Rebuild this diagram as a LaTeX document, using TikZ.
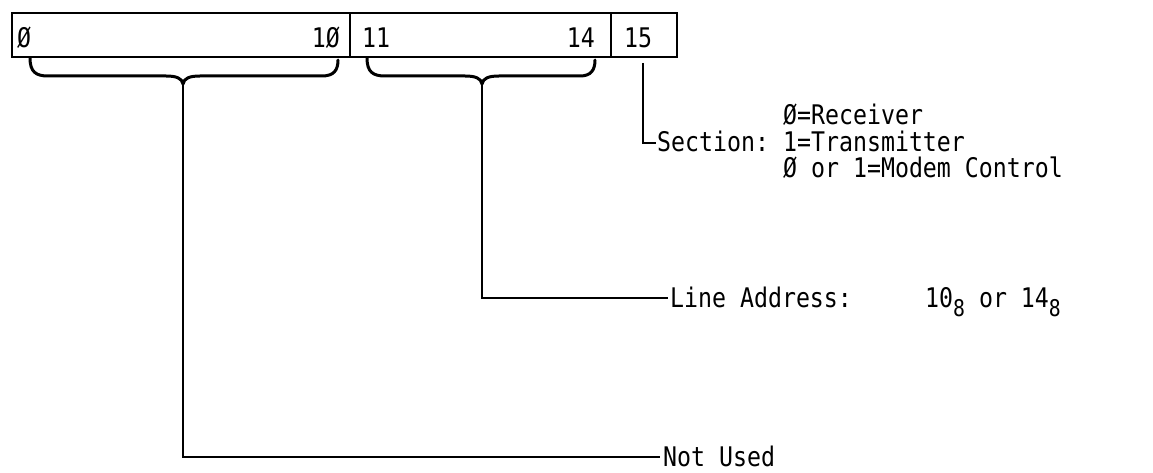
\documentclass[tikz,border=0pt]{standalone}
\usepackage{fontspec}
\setmonofont[FakeStretch=0.86]{DejaVu Sans Mono}
\begin{document}
\begin{tikzpicture}[x=1pt,y=-1pt,
  lbl/.style={inner sep=0pt,anchor=base west,font=\ttfamily\fontsize{27}{27}\selectfont},
  lble/.style={lbl,anchor=base east},
  frame/.style={line width=1.7pt},
  brace/.style={line width=3pt,line cap=round,line join=round},
  conn/.style={line width=2.7pt}]
\useasboundingbox (0,0) rectangle (1153,473);
\fill[white] (0,0) rectangle (1153,473);
% register box
\draw[frame] (12,13) rectangle (677,57);
\draw[frame] (350,13) -- (350,57);
\draw[frame] (611,13) -- (611,57);
\node[lbl]  (b0)  at (17,48)  {Ø};
\node[lble] (b10) at (340,48) {1Ø};
\node[lbl]  (b11) at (362,48) {11};
\node[lble] (b14) at (595,48) {14};
\node[lbl]  (b15) at (624,48) {15};
% braces
\coordinate (t1) at (183,84);
\coordinate (t2) at (482,84);
\draw[brace] (30,58) .. controls (30,72) and (36,76) .. (48,76) -- (166,76)
  .. controls (176,76) and (182,78) .. (t1)
  .. controls (184,78) and (190,76) .. (200,76) -- (322,76)
  .. controls (334,76) and (338,70) .. (338,60);
\draw[brace] (367,58) .. controls (367,72) and (373,76) .. (385,76) -- (465,76)
  .. controls (475,76) and (481,78) .. (t2)
  .. controls (483,78) and (489,76) .. (499,76) -- (580,76)
  .. controls (591,76) and (595,70) .. (595,60);
% labels
\node[lbl] (sec) at (657,152) {Section:};
\node[lbl] (s0) at (783,125) {Ø=Receiver};
\node[lbl] (s1) at (783,152) {1=Transmitter};
\node[lbl] (s2) at (783,178) {Ø or 1=Modem Control};
\node[lbl] (la) at (670,307) {\makebox[255pt][l]{Line Address:}10\raisebox{-9pt}{\fontsize{23}{23}\selectfont 8} or 14\raisebox{-9pt}{\fontsize{23}{23}\selectfont 8}};
\node[lbl] (nu) at (663,466) {Not Used};
% connectors
\coordinate (s15) at (643,63);
\coordinate (secin) at (656,143);
\coordinate (lain) at (668,298);
\coordinate (nuin) at (660,457);
\draw[conn] (s15) |- (secin);
\draw[conn] (t2) |- (lain);
\draw[conn] (t1) |- (nuin);
\end{tikzpicture}
\end{document}
